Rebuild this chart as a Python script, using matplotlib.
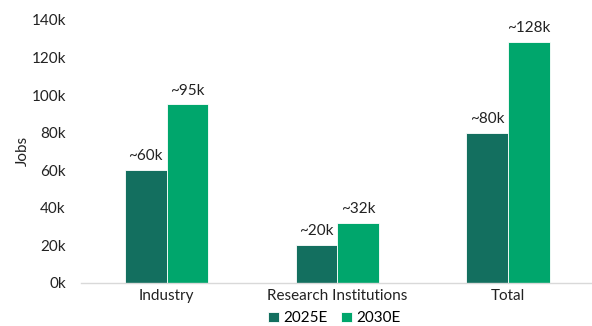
import numpy as np
import matplotlib
matplotlib.use("Agg")
import matplotlib.pyplot as plt
from matplotlib.ticker import FuncFormatter

categories = ["Industry", "Research Institutions", "Total"]
series_names = ["2025E", "2030E"]
jobs_2025 = [60000, 20000, 80000]
jobs_2030 = [95000, 32000, 128000]
labels_2025 = ["~60k", "~20k", "~80k"]
labels_2030 = ["~95k", "~32k", "~128k"]

colors = ["#136f5f", "#00a66c"]

plt.rcParams["font.family"] = ["Lato", "DejaVu Sans"]

fig = plt.figure(figsize=(5.92, 3.26), dpi=100)
ax = fig.add_axes([0.137, 0.132, 0.866, 0.807])

x = np.arange(len(categories))
w = 0.245
bars1 = ax.bar(x - w / 2, jobs_2025, w, color=colors[0], edgecolor="white", linewidth=0.6, label=series_names[0])
bars2 = ax.bar(x + w / 2, jobs_2030, w, color=colors[1], edgecolor="white", linewidth=0.6, label=series_names[1])

# value labels above each bar
for bars, labs in [(bars1, labels_2025), (bars2, labels_2030)]:
    for b, t in zip(bars, labs):
        ax.annotate(t, (b.get_x() + b.get_width() / 2, b.get_height()),
                    xytext=(0, 5), textcoords="offset points",
                    ha="center", va="bottom", fontsize=11, color="#222222")

ax.set_xlim(-0.5, 2.5)
ax.set_ylim(0, 140000)
ax.set_yticks(np.arange(0, 140001, 20000))
ax.yaxis.set_major_formatter(FuncFormatter(lambda v, p: f"{int(v/1000)}k"))
ax.set_xticks(x)
ax.set_xticklabels(categories)
ax.tick_params(axis="both", length=0, labelsize=11, colors="#222222")
ax.tick_params(axis="y", pad=11)
ax.tick_params(axis="x", pad=4)

for s in ["top", "right", "left"]:
    ax.spines[s].set_visible(False)
ax.spines["bottom"].set_color("#d9d9d9")
ax.spines["bottom"].set_linewidth(1)

ax.set_ylabel("Jobs", fontsize=11, color="#222222", labelpad=1)

fig.legend(loc="lower center", bbox_to_anchor=(0.565, -0.04), ncol=2, frameon=False,
           fontsize=11, handlelength=0.7, handleheight=0.7, handletextpad=0.3,
           columnspacing=0.9)

fig.savefig("out.png", dpi=100)
